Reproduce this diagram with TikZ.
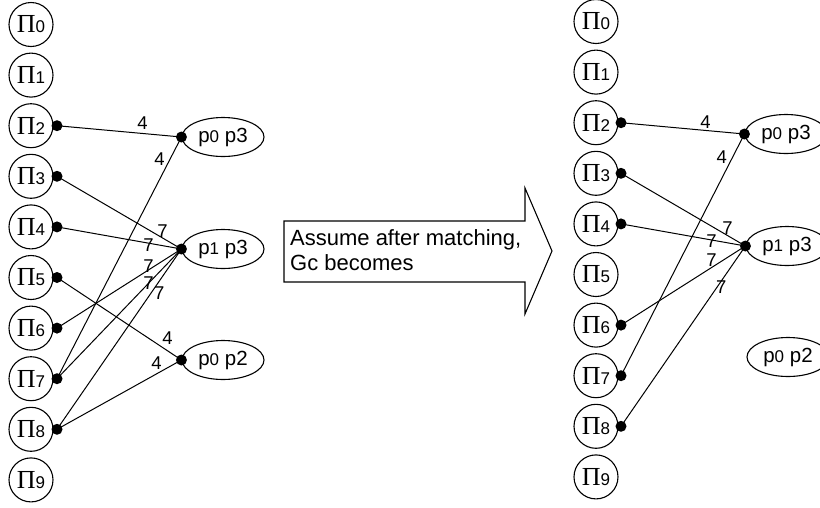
\documentclass[tikz,border=0pt]{standalone}
\usepackage{fontspec}
\setmainfont{Liberation Sans}
\newfontfamily\serifPi{Liberation Serif}
\usetikzlibrary{shapes.geometric}
\newcommand\pilab[1]{{\serifPi\fontsize{26}{26}\selectfont Π}{\fontsize{17}{17}\selectfont #1}}
\newcommand\plab[3]{p{\fontsize{17}{17}\selectfont #1} #2#3}
\begin{document}
\begin{tikzpicture}[x=1pt,y=-1pt,
  pinode/.style={circle, draw, line width=1.1pt, minimum size=44pt, inner sep=0pt},
  pnode/.style={ellipse, draw, line width=1.1pt, minimum width=82pt, minimum height=39pt, inner sep=0pt, font=\fontsize{20.5}{20.5}\selectfont},
  dotn/.style={circle, fill=black, minimum size=11pt, inner sep=0pt},
  edge/.style={line width=1pt},
  lab/.style={font=\fontsize{18.5}{18.5}\selectfont, inner sep=0pt},
  arrowtext/.style={anchor=north west, align=left, font=\fontsize{22}{25}\selectfont, inner sep=0pt}]
\useasboundingbox (0,0) rectangle (820,507);

% ---------- left graph ----------
\foreach \i in {0,...,9} \node[pinode] (L\i) at (31, 24.5+50.6*\i) {\pilab{\i}};
\foreach \i in {2,...,8} \node[dotn] (Ld\i) at (57, 24.5+50.6*\i) {};

\node[pnode] (LA) at (223,137) {\plab{0}{p}{3}};
\node[pnode] (LB) at (223,249) {\plab{1}{p}{3}};
\node[pnode] (LC) at (223,360) {\plab{0}{p}{2}};
\node[dotn] (LAd) at (LA.west) {};
\node[dotn] (LBd) at (LB.west) {};
\node[dotn] (LCd) at (LC.west) {};

\draw[edge] (Ld2.center) -- node[lab, pos=.688, yshift=10pt] {4} (LAd.center);
\draw[edge] (Ld7.center) -- node[lab, pos=.909, xshift=-10.5pt] {4} (LAd.center);
\draw[edge] (Ld3.center) -- node[lab, pos=.848, yshift=7pt] {7} (LBd.center);
\draw[edge] (Ld4.center) -- node[lab, pos=.736, yshift=-2pt] {7} (LBd.center);
\draw[edge] (Ld6.center) -- node[lab, pos=.736, yshift=4pt] {7} (LBd.center);
\draw[edge] (Ld7.center) -- node[lab, pos=.736] {7} (LBd.center);
\draw[edge] (Ld8.center) -- node[lab, pos=.758, xshift=8pt] {7} (LBd.center);
\draw[edge] (Ld5.center) -- node[lab, pos=.888, yshift=13pt] {4} (LCd.center);
\draw[edge] (Ld8.center) -- node[lab, pos=.8, yshift=11pt] {4} (LCd.center);

% ---------- arrow ----------
\draw[line width=1.1pt] (284,221) -- (525,221) -- (525,188) -- (552,251) -- (525,314) -- (525,282) -- (284,282) -- cycle;
\node[arrowtext] (T) at (290,229) {Assume after matching,\\Gc becomes};

% ---------- right graph ----------
\foreach \i in {0,...,9} \node[pinode] (R\i) at (596, 21.5+50.6*\i) {\pilab{\i}};
\foreach \i in {2,3,4,6,7,8} \node[dotn] (Rd\i) at (621, 21.5+50.6*\i) {};

\node[pnode] (RA) at (786,134) {\plab{0}{p}{3}};
\node[pnode] (RB) at (787,246) {\plab{1}{p}{3}};
\node[pnode] (RC) at (788,357) {\plab{0}{p}{2}};
\node[dotn] (RAd) at (RA.west) {};
\node[dotn] (RBd) at (RB.west) {};

\draw[edge] (Rd2.center) -- node[lab, pos=.685, yshift=8.5pt] {4} (RAd.center);
\draw[edge] (Rd7.center) -- node[lab, pos=.905, xshift=-11pt] {4} (RAd.center);
\draw[edge] (Rd3.center) -- node[lab, pos=.856, yshift=7.5pt] {7} (RBd.center);
\draw[edge] (Rd4.center) -- node[lab, pos=.728, yshift=-1pt] {7} (RBd.center);
\draw[edge] (Rd6.center) -- node[lab, pos=.728, yshift=7pt] {7} (RBd.center);
\draw[edge] (Rd8.center) -- node[lab, pos=.773, xshift=4pt] {7} (RBd.center);
\end{tikzpicture}
\end{document}
